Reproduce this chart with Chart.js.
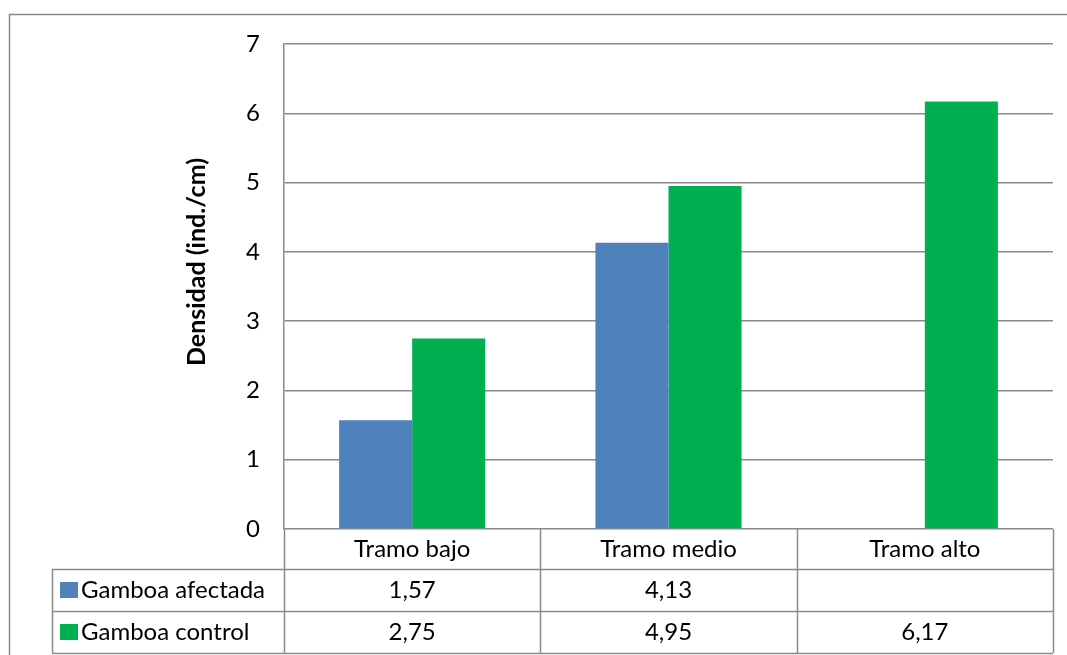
<!DOCTYPE html>
<html>
<head>
<meta charset="utf-8">
<style>
  html, body { margin: 0; padding: 0; background: #ffffff; }
  #wrap { position: relative; width: 1067px; height: 655px; }
</style>
<script src="https://cdn.jsdelivr.net/npm/chart.js@4.4.1/dist/chart.umd.min.js"></script>
</head>
<body>
<div id="wrap"><canvas id="chart" width="1067" height="655"></canvas></div>
<script>
// Density by river section
const categories = ['Tramo bajo', 'Tramo medio', 'Tramo alto'];
const seriesNames = ['Gamboa afectada', 'Gamboa control'];
const afectada = [1.57, 4.13, null];
const control = [2.75, 4.95, 6.17];
const yTicks = [0, 1, 2, 3, 4, 5, 6, 7];
const yTitle = 'Densidad (ind./cm)';

const BLUE = '#4F81BD';
const GREEN = '#00B050';
const LINE = '#8a8a8a';
const FONT = 'Lato, "Open Sans", sans-serif';
const TEXT_SIZE = 24;

const fmt = v => (v === null || v === undefined) ? '' : v.toFixed(2).replace('.', ',');

// Draws the outer frame, the rotated axis title and the data table under the plot
const tablePlugin = {
  id: 'dataTable',
  beforeDraw(chart) {
    const ctx = chart.ctx;
    ctx.save();
    ctx.strokeStyle = LINE;
    ctx.lineWidth = 1.5;
    ctx.strokeRect(9.5, 14.5, 1200, 800);
    ctx.restore();
  },
  afterDraw(chart) {
    const ctx = chart.ctx;
    const area = chart.chartArea;
    const x = chart.scales.x;
    const n = categories.length;
    const colW = (area.right - area.left) / n;
    const rowH = [40, 42, 42];
    const y0 = area.bottom;
    const y1 = y0 + rowH[0];
    const y2 = y1 + rowH[1];
    const y3 = y2 + rowH[2];
    const legendLeft = 52;

    ctx.save();
    ctx.strokeStyle = LINE;
    ctx.lineWidth = 1.5;
    ctx.beginPath();
    // vertical column lines
    for (let i = 0; i <= n; i++) {
      const cx = Math.round(area.left + i * colW) + 0.5;
      ctx.moveTo(cx, y0);
      ctx.lineTo(cx, y3);
    }
    // left side of the legend column
    ctx.moveTo(legendLeft + 0.5, y1);
    ctx.lineTo(legendLeft + 0.5, y3);
    // horizontal row lines
    [y1, y2, y3].forEach(yy => {
      ctx.moveTo(legendLeft, Math.round(yy) + 0.5);
      ctx.lineTo(area.right, Math.round(yy) + 0.5);
    });
    ctx.stroke();

    ctx.fillStyle = '#000000';
    ctx.font = TEXT_SIZE + 'px ' + FONT;
    ctx.textAlign = 'center';
    ctx.textBaseline = 'middle';
    categories.forEach((c, i) => {
      const cx = x.getPixelForValue(i);
      ctx.fillText(c, cx, (y0 + y1) / 2);
      ctx.fillText(fmt(afectada[i]), cx, (y1 + y2) / 2);
      ctx.fillText(fmt(control[i]), cx, (y2 + y3) / 2);
    });

    // legend keys
    const rows = [[y1, y2, BLUE], [y2, y3, GREEN]];
    ctx.textAlign = 'left';
    rows.forEach(([a, b, col], k) => {
      const mid = (a + b) / 2;
      ctx.fillStyle = col;
      ctx.fillRect(60, mid - 8, 18, 16);
      ctx.fillStyle = '#000000';
      ctx.fillText(seriesNames[k], 81, mid);
    });

    // axis title
    ctx.translate(197, 262);
    ctx.rotate(-Math.PI / 2);
    ctx.textAlign = 'center';
    ctx.font = 'bold 25px ' + FONT;
    ctx.fillText(yTitle, 0, 0);
    ctx.restore();
  }
};

new Chart(document.getElementById('chart'), {
  type: 'bar',
  data: {
    labels: categories,
    datasets: [
      { label: seriesNames[0], data: afectada, backgroundColor: BLUE, borderWidth: 0 },
      { label: seriesNames[1], data: control, backgroundColor: GREEN, borderWidth: 0 }
    ]
  },
  options: {
    responsive: false,
    animation: false,
    devicePixelRatio: 1,
    layout: { padding: { left: 0, right: 14, top: 44, bottom: 126 } },
    datasets: { bar: { categoryPercentage: 0.57, barPercentage: 1.0 } },
    plugins: { legend: { display: false }, tooltip: { enabled: false } },
    scales: {
      x: {
        display: true,
        ticks: { display: false },
        grid: { display: false, drawTicks: false },
        border: { display: false }
      },
      y: {
        min: 0,
        max: 7,
        afterBuildTicks: s => { s.ticks = yTicks.map(v => ({ value: v })); },
        afterFit: s => { s.width = 284; },
        ticks: {
          color: '#000000',
          padding: 24,
          font: { family: FONT, size: TEXT_SIZE },
          callback: v => String(v)
        },
        grid: { color: LINE, lineWidth: 1.5, drawTicks: false },
        border: { display: true, color: LINE, width: 1.5 }
      }
    }
  },
  plugins: [tablePlugin]
});
</script>
</body>
</html>
